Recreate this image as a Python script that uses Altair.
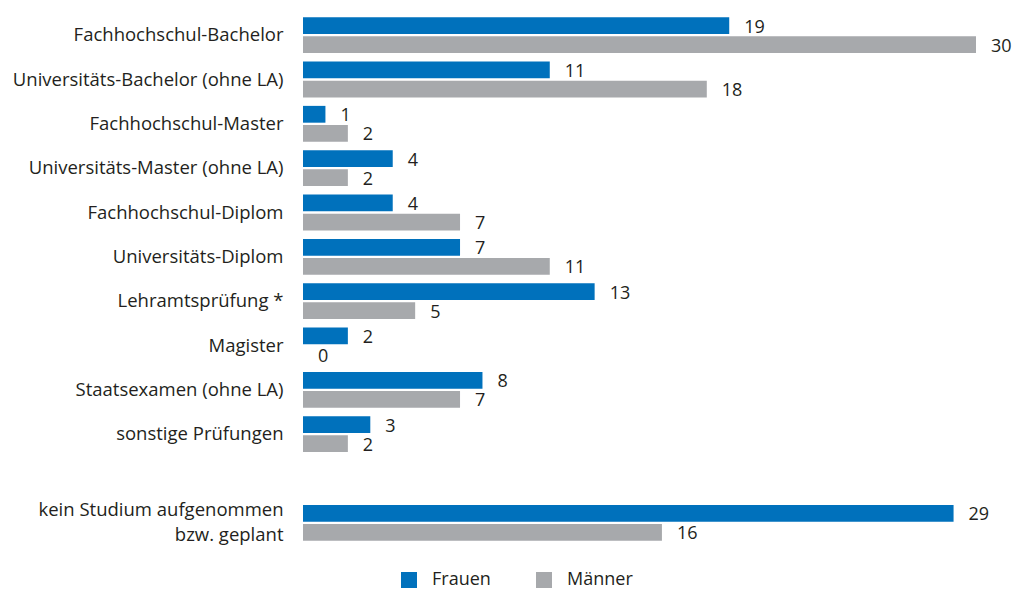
import altair as alt
import pandas as pd

categories = [
    "Fachhochschul-Bachelor",
    "Universitäts-Bachelor (ohne LA)",
    "Fachhochschul-Master",
    "Universitäts-Master (ohne LA)",
    "Fachhochschul-Diplom",
    "Universitäts-Diplom",
    "Lehramtsprüfung *",
    "Magister",
    "Staatsexamen (ohne LA)",
    "sonstige Prüfungen",
    "kein Studium aufgenommen|bzw. geplant",
]
frauen = [19, 11, 1, 4, 4, 7, 13, 2, 8, 3, 29]
maenner = [30, 18, 2, 2, 7, 11, 5, 0, 7, 2, 16]
series = ["Frauen", "Männer"]
colors = ["#0071bc", "#a7a9ac"]

# Spacer slot before the last category
domain = categories[:-1] + [" "] + categories[-1:]

rows = []
for c, f, m in zip(categories, frauen, maenner):
    rows.append({"cat": c, "sex": "Frauen", "val": f})
    rows.append({"cat": c, "sex": "Männer", "val": m})
df = pd.DataFrame(rows)

FONT = "Open Sans"
TXT = "#231f20"

y_scale = alt.Scale(domain=domain, paddingInner=0.19, paddingOuter=0.095)

y_enc = alt.Y(
    "cat:N",
    scale=y_scale,
    axis=alt.Axis(
        title=None, domain=False, ticks=False, grid=False,
        labelPadding=20, labelFontSize=18.5, labelFont=FONT, labelColor=TXT,
        labelLimit=400, labelLineHeight=25,
        labelExpr="split(datum.label, '|')",
        labelOffset={"condition": {"test": "indexof(datum.value, '|') >= 0", "value": -13}, "value": 0},
    ),
)
yoff = alt.YOffset("sex:N", scale=alt.Scale(domain=series, paddingInner=0.12))
x_enc = alt.X("val:Q", scale=alt.Scale(domain=[0, 30], nice=False), axis=None)

bars = alt.Chart(df).mark_bar().encode(
    y=y_enc,
    yOffset=yoff,
    x=x_enc,
    color=alt.Color(
        "sex:N",
        scale=alt.Scale(domain=series, range=colors),
        legend=alt.Legend(
            title=None, orient="none", direction="horizontal",
            legendX=97, legendY=558, padding=0,
            symbolType="square", symbolSize=256, symbolStrokeWidth=0,
            labelFontSize=18, labelFont=FONT, labelColor=TXT,
            labelOffset=14, columnPadding=44,
        ),
    ),
)

labels = alt.Chart(df).mark_text(
    align="left", baseline="middle", dx=15, dy=2, fontSize=18, font=FONT, color=TXT
).encode(
    y=alt.Y("cat:N", scale=y_scale),
    yOffset=yoff,
    x=x_enc,
    text=alt.Text("val:Q"),
)

chart = (
    alt.layer(bars, labels)
    .properties(
        width=673,
        height=532,
        autosize=alt.AutoSizeParams(type="none"),
        padding={"left": 295, "top": 5, "right": 36, "bottom": 48},
    )
    .configure_view(stroke=None)
)

chart.save("out.html", embed_options={"renderer": "svg", "actions": False})
